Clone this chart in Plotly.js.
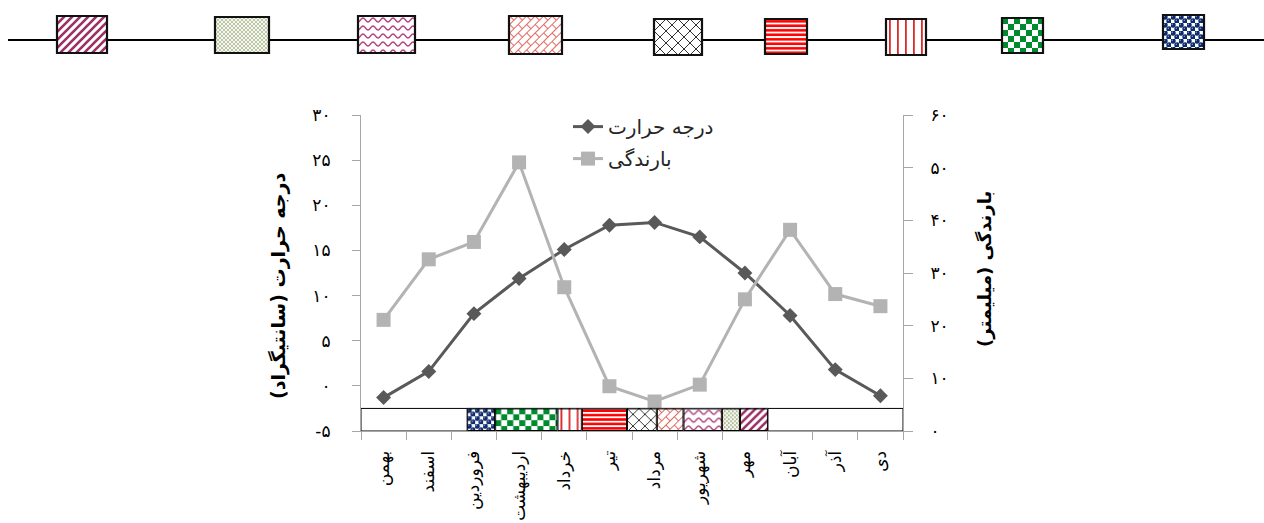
<!DOCTYPE html>
<html>
<head>
<meta charset="utf-8">
<script src="https://cdn.plot.ly/plotly-3.0.1.min.js"></script>
<style>html,body{margin:0;padding:0;background:#fff;}#chart{width:1264px;height:523px;}</style>
</head>
<body>
<div id="chart"></div>
<script>
// ---------------- data ----------------
const months = ['بهمن','اسفند','فروردین','اردیبهشت','خرداد','تیر','مرداد','شهریور','مهر','آبان','آذر','دی'];
const temperature = [-1.3, 1.6, 8.0, 11.9, 15.1, 17.8, 18.1, 16.5, 12.5, 7.8, 1.8, -1.1];
const precipitation = [21.1, 32.6, 35.9, 51.0, 27.3, 8.5, 5.6, 8.8, 25.0, 38.2, 26.0, 23.7];
const seriesNames = ['درجه حرارت', 'بارندگی'];
// growth stages, in months counted from the start of بهمن
const stageStart = [2.35, 2.97, 4.35, 4.89, 5.89, 6.55, 7.14, 7.99, 8.39];
const stageEnd   = [2.97, 4.35, 4.89, 5.89, 6.55, 7.14, 7.99, 8.39, 9.01];
const yearSpan = [0, 12];
const tempTicks = [-5, 0, 5, 10, 15, 20, 25, 30];
const tempTickText = ['-۵', '۰', '۵', '۱۰', '۱۵', '۲۰', '۲۵', '۳۰'];
const precipTicks = [0, 10, 20, 30, 40, 50, 60];
const precipTickText = ['۰', '۱۰', '۲۰', '۳۰', '۴۰', '۵۰', '۶۰'];
const yTitleLeft = 'درجه حرارت (سانتیگراد)';
const yTitleRight = 'بارندگی (میلیمتر)';

// ---------------- styles / layout constants ----------------
const FONT = 'DejaVu Sans';
const PLOT = {l: 361, t: 115, w: 542, h: 316};
const STAGE_STYLE = ['navy','green','vred','hred','cross','brick','wave','dots','diag'];
const LEGEND_STYLE = ['diag','dots','wave','brick','cross','hred','vred','green','navy'];
const LEGEND_BOXES = [[57,107,16,53],[215,269,17,53],[358,415,16,53],[509,562,16,54],[654,702,19,55],[765,807,19,54],[886,926,19,55],[1002,1043,18,53],[1163,1204,15,49]];
const STRIP = {top: -2.5, bottom: -5};

const PAT = {
  diag:  {tw: 8, th: 8, bg: '#ffffff', body: '<path d="M-2,2 L2,-2 M0,8 L8,0 M6,10 L10,6" stroke="#9b2f66" stroke-width="2.6"/>'},
  dots:  {tw: 4, th: 4, bg: '#f6f7ee', body: '<circle cx="1" cy="1" r="0.7" fill="#55702f"/><circle cx="3" cy="3" r="0.7" fill="#55702f"/>'},
  wave:  {tw: 10, th: 8, bg: '#ffffff', body: '<path d="M0,6 C2,6 3,2 5,2 C7,2 8,6 10,6" fill="none" stroke="#b04785" stroke-width="1.3"/>'},
  brick: {tw: 12, th: 12, bg: '#ffffff', tf: 'rotate(-45)', body: '<path d="M0,0.5 H12 M0,6.5 H12 M0.5,0.5 V6.5 M6.5,6.5 V12.5" fill="none" stroke="#e06a62" stroke-width="1"/>'},
  cross: {tw: 12, th: 12, bg: '#ffffff', body: '<path d="M0,0 L12,12 M12,0 L0,12" stroke="#333333" stroke-width="1"/>'},
  hred:  {tw: 4, th: 4.5, bg: '#ffffff', body: '<rect x="0" y="1" width="4" height="2.6" fill="#ff0000"/>'},
  vred:  {tw: 8, th: 4, bg: '#ffffff', body: '<rect x="3" y="0" width="1.8" height="4" fill="#d92b2b"/>'},
  green: {tw: 12, th: 12, bg: '#ffffff', body: '<rect x="0" y="0" width="6" height="6" fill="#008a2e"/><rect x="6" y="6" width="6" height="6" fill="#008a2e"/>'},
  navy:  {tw: 8, th: 8, bg: '#ffffff', body: '<circle cx="2" cy="2" r="2.7" fill="#0d2a6b"/><circle cx="6" cy="6" r="2.7" fill="#0d2a6b"/><circle cx="1.3" cy="1.3" r="0.7" fill="#8fa0c8"/><circle cx="5.3" cy="5.3" r="0.7" fill="#8fa0c8"/>'}
};

function svgURI(key, w, h, border) {
  const p = PAT[key];
  const tf = p.tf ? ' patternTransform="' + p.tf + '"' : '';
  const edge = border ? '<rect x="0.5" y="0.5" width="' + (w - 1) + '" height="' + (h - 1) + '" fill="none" stroke="#000" stroke-width="1"/>' : '';
  const svg = '<svg xmlns="http://www.w3.org/2000/svg" width="' + w + '" height="' + h + '" viewBox="0 0 ' + w + ' ' + h + '" preserveAspectRatio="none">' +
    '<defs><pattern id="p" patternUnits="userSpaceOnUse" width="' + p.tw + '" height="' + p.th + '"' + tf + '>' +
    '<rect width="' + p.tw + '" height="' + p.th + '" fill="' + p.bg + '"/>' + p.body + '</pattern></defs>' +
    '<rect width="' + w + '" height="' + h + '" fill="url(#p)"/>' + edge + '</svg>';
  return 'data:image/svg+xml;charset=utf-8,' + encodeURIComponent(svg);
}
const px2x = px => (px - PLOT.l) / PLOT.w;
const py2y = py => 1 - (py - PLOT.t) / PLOT.h;

// ---------------- traces ----------------
const traces = [
  {type: 'scatter', mode: 'lines+markers', name: seriesNames[0], x: months, y: temperature,
   xaxis: 'x', yaxis: 'y', legendgroup: 'a',
   line: {color: '#595959', width: 3}, marker: {symbol: 'diamond', size: 11.5, color: '#595959'}},
  {type: 'scatter', mode: 'lines+markers', name: seriesNames[1], x: months, y: precipitation,
   xaxis: 'x', yaxis: 'y2', legendgroup: 'b',
   line: {color: '#b3b3b3', width: 3}, marker: {symbol: 'square', size: 14, color: '#b3b3b3'}}
];
const stripCenter = (STRIP.top + STRIP.bottom) / 2;
const stripWidth = STRIP.top - STRIP.bottom;
traces.push({type: 'bar', orientation: 'h', xaxis: 'x2', yaxis: 'y', showlegend: false, hoverinfo: 'skip',
  y: [stripCenter], base: [yearSpan[0]], x: [yearSpan[1] - yearSpan[0]], width: [stripWidth],
  marker: {color: 'rgba(0,0,0,0)', line: {color: '#000', width: 1}}});
traces.push({type: 'bar', orientation: 'h', xaxis: 'x2', yaxis: 'y', showlegend: false, hoverinfo: 'skip',
  y: stageStart.map(() => stripCenter), base: stageStart, x: stageEnd.map((e, i) => e - stageStart[i]),
  width: stageStart.map(() => stripWidth),
  marker: {color: 'rgba(0,0,0,0)', line: {color: '#000', width: 1}}});

// ---------------- images (pattern fills) ----------------
const images = [];
const yearLen = yearSpan[1] - yearSpan[0];
const stripPxH = stripWidth / 35 * PLOT.h;
stageStart.forEach((s, i) => {
  const wpx = Math.max(1, Math.round((stageEnd[i] - s) / yearLen * PLOT.w));
  images.push({source: svgURI(STAGE_STYLE[i], wpx, Math.round(stripPxH), true), xref: 'x2', yref: 'y',
    x: s, y: STRIP.top, sizex: stageEnd[i] - s, sizey: stripWidth, xanchor: 'left', yanchor: 'top',
    sizing: 'stretch', layer: 'above'});
});
const shapes = [{type: 'line', xref: 'paper', yref: 'paper', x0: px2x(8), x1: px2x(1264), y0: py2y(40), y1: py2y(40),
  line: {color: '#000', width: 1.8}, layer: 'below'}];
LEGEND_BOXES.forEach((b, i) => {
  images.push({source: svgURI(LEGEND_STYLE[i], b[1] - b[0], b[3] - b[2], false), xref: 'paper', yref: 'paper',
    x: px2x(b[0]), y: py2y(b[2]), sizex: (b[1] - b[0]) / PLOT.w, sizey: (b[3] - b[2]) / PLOT.h,
    xanchor: 'left', yanchor: 'top', sizing: 'stretch', layer: 'above'});
  shapes.push({type: 'rect', xref: 'paper', yref: 'paper', x0: px2x(b[0]), x1: px2x(b[1]), y0: py2y(b[3]), y1: py2y(b[2]),
    line: {color: '#111', width: 2.2}, fillcolor: 'rgba(0,0,0,0)', layer: 'above'});
});

const axisGray = '#a6a6a6';
const layout = {
  width: 1264, height: 523, autosize: false,
  margin: {l: PLOT.l, r: 1264 - PLOT.l - PLOT.w, t: PLOT.t, b: 523 - PLOT.t - PLOT.h, pad: 0},
  paper_bgcolor: '#fff', plot_bgcolor: 'rgba(0,0,0,0)',
  font: {family: FONT, size: 14, color: '#000'},
  barmode: 'overlay', showlegend: true,
  xaxis: {type: 'category', range: [-0.5, 11.5], tickson: 'boundaries', ticks: 'outside', ticklen: 8,
    tickcolor: axisGray, showline: true, linecolor: axisGray, linewidth: 1, showgrid: false, zeroline: false,
    tickangle: -90, ticklabelstandoff: 12, tickfont: {family: FONT, size: 17, color: '#000'}, fixedrange: true},
  xaxis2: {type: 'linear', overlaying: 'x', anchor: 'y', range: yearSpan, visible: false, fixedrange: true},
  yaxis: {range: [-5, 30], tickvals: tempTicks, ticktext: tempTickText, ticks: 'outside', ticklen: 8,
    tickcolor: axisGray, showline: true, linecolor: axisGray, showgrid: false, zeroline: false,
    ticklabelstandoff: 18, tickfont: {family: FONT, size: 17, color: '#000'}, fixedrange: true},
  yaxis2: {range: [0, 60], overlaying: 'y', side: 'right', anchor: 'x', tickvals: precipTicks, ticktext: precipTickText,
    ticks: 'outside', ticklen: 9, tickcolor: axisGray, showline: true, linecolor: axisGray, showgrid: false, zeroline: false,
    ticklabelstandoff: 14, tickfont: {family: FONT, size: 17, color: '#000'}, fixedrange: true},
  legend: {x: px2x(568), xanchor: 'left', y: 1.025, yanchor: 'top', bgcolor: 'rgba(0,0,0,0)',
    font: {family: FONT, size: 20, color: '#262626'}, tracegroupgap: 3, traceorder: 'grouped'},
  annotations: [
    {text: '<b>' + yTitleLeft + '</b>', xref: 'paper', yref: 'paper', x: px2x(278), y: py2y(286), textangle: -90, showarrow: false,
     font: {family: FONT, size: 19, color: '#000'}, xanchor: 'center', yanchor: 'middle'},
    {text: '<b>' + yTitleRight + '</b>', xref: 'paper', yref: 'paper', x: px2x(985), y: py2y(269), textangle: -90, showarrow: false,
     font: {family: FONT, size: 18, color: '#000'}, xanchor: 'center', yanchor: 'middle'}
  ],
  images: images, shapes: shapes
};
Plotly.newPlot('chart', traces, layout, {staticPlot: true, displayModeBar: false});
</script>
</body>
</html>
